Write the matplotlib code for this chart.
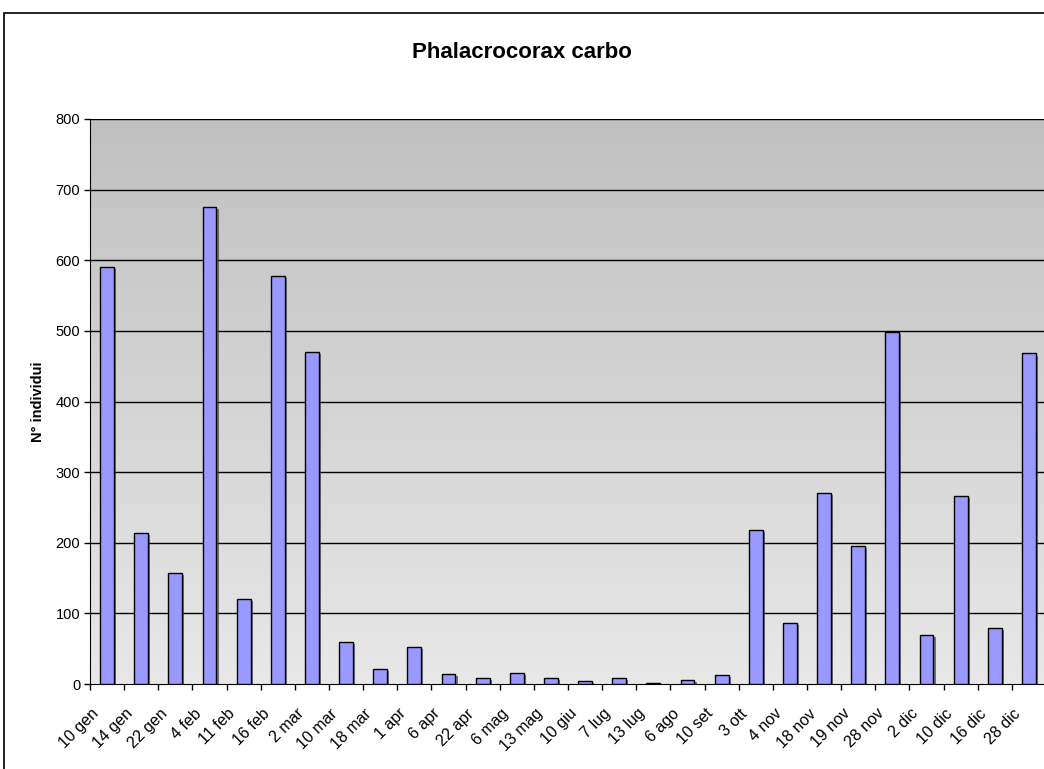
import matplotlib
matplotlib.use("Agg")
import matplotlib.pyplot as plt
import matplotlib.patheffects as pe
import matplotlib.transforms as mtransforms
from matplotlib.patches import Rectangle
import numpy as np

# dati conteggi
date = ["10 gen", "14 gen", "22 gen", "4 feb", "11 feb", "16 feb", "2 mar",
        "10 mar", "18 mar", "1 apr", "6 apr", "22 apr", "6 mag", "13 mag",
        "10 giu", "7 lug", "13 lug", "6 ago", "10 set", "3 ott", "4 nov",
        "18 nov", "19 nov", "28 nov", "2 dic", "10 dic", "16 dic", "28 dic"]
individui = [590, 214, 157, 676, 121, 578, 470, 59, 21, 53, 14, 8, 16, 9,
             4, 8, 1, 6, 13, 218, 86, 270, 195, 498, 70, 266, 80, 468]
y_ticks = [0, 100, 200, 300, 400, 500, 600, 700, 800]

plt.rcParams['font.family'] = ['Liberation Sans', 'DejaVu Sans']

W, H = 1044, 769
fig = plt.figure(figsize=(W / 100, H / 100), dpi=100)

# cornice esterna
fig.patches.append(Rectangle((4 / W, -0.05), 1.1, 1 - 13 / H + 0.05,
                             transform=fig.transFigure, fill=False,
                             edgecolor='black', linewidth=1.2))

ax = fig.add_axes([90 / W, 1 - 684 / H, 956 / W, 565 / H])

# sfondo sfumato
grad = np.linspace(0, 1, 256).reshape(-1, 1)
ax.imshow(grad, extent=[0, 1, 0, 1], transform=ax.transAxes, aspect='auto',
          cmap=matplotlib.colors.LinearSegmentedColormap.from_list(
              'g', ['#e8e8e8', '#c0c0c0']),
          origin='lower', zorder=0)

x = np.arange(len(date))
bars = ax.bar(x, individui, width=0.41, color='#9999ff', edgecolor='black',
              linewidth=1, zorder=3)
for b in bars:
    b.set_path_effects([pe.SimplePatchShadow(offset=(1.5, -1.5),
                                             shadow_rgbFace='#444444',
                                             alpha=0.7), pe.Normal()])

ax.set_xlim(-0.5, len(date) - 0.5)
ax.set_ylim(0, 800)
ax.set_yticks(y_ticks)
ax.set_yticklabels([str(v) for v in y_ticks], fontsize=10.5)
for v in y_ticks[1:]:
    ax.axhline(v, color='black', linewidth=1, zorder=1)

# etichette date scritte a mano, spostate in basso a sinistra come Excel
ax.set_xticks([])
ax.set_xticks(np.arange(len(date) + 1) - 0.5, minor=True)
base = mtransforms.blended_transform_factory(ax.transData, ax.transAxes)
offset = mtransforms.ScaledTranslation(-0.16, -0.22, fig.dpi_scale_trans)
for i, d in enumerate(date):
    ax.text(i, 0, d, transform=base + offset, rotation=45, ha='right',
            va='top', rotation_mode='anchor', fontsize=11.5, clip_on=False)
ax.tick_params(axis='x', which='minor', length=4, direction='out', width=1)
ax.tick_params(axis='y', length=4, direction='out', width=1, pad=3)

for s in ['top', 'right']:
    ax.spines[s].set_visible(False)
ax.spines['left'].set_color('black')
ax.spines['bottom'].set_color('black')

ax.set_ylabel("N° individui", fontsize=10.5, fontweight='bold', labelpad=8)
fig.text(522 / W, 1 - 52 / H, "Phalacrocorax carbo", ha='center',
         va='center', fontsize=16, fontweight='bold')

fig.savefig("out.png", dpi=100, facecolor='white')
